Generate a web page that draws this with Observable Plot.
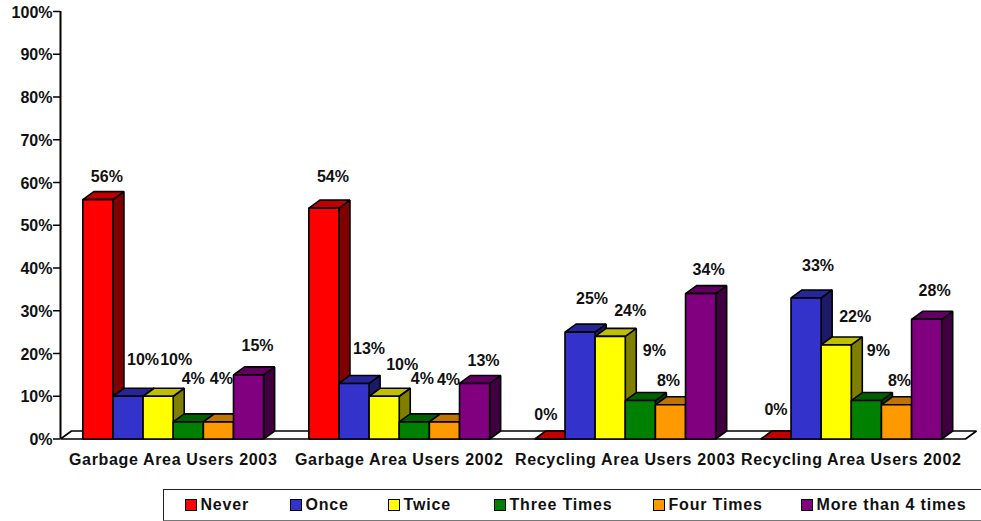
<!DOCTYPE html>
<html>
<head>
<meta charset="utf-8">
<script src="https://cdn.jsdelivr.net/npm/d3@7"></script>
<script src="https://cdn.jsdelivr.net/npm/@observablehq/plot@0.6"></script>
<style>
html,body{margin:0;padding:0;background:#fff;overflow:hidden;}
#wrap{position:relative;width:981px;height:521px;font-family:"Liberation Sans",Arial,sans-serif;font-weight:700;color:#111;}
#wrap svg{position:absolute;left:0;top:0;}
.cat text{letter-spacing:.66px;}
#legend{position:absolute;left:163px;top:489px;width:830px;height:29.5px;border:1.5px solid #222;border-right:none;border-bottom-color:#777;box-sizing:content-box;}
#legend .item{position:absolute;top:0;height:30px;line-height:30px;font-size:16px;letter-spacing:.82px;white-space:nowrap;}
#legend .sw{position:absolute;left:0;top:8.5px;width:10px;height:10px;border:1.5px solid #000;}
#legend .lb{position:absolute;left:16px;top:0;}
</style>
</head>
<body>
<div id="wrap"></div>
<script>
const categories = ["Garbage Area Users 2003","Garbage Area Users 2002","Recycling Area Users 2003","Recycling Area Users 2002"];
const series = ["Never","Once","Twice","Three Times","Four Times","More than 4 times"];
const never     = [56,54,0,0];
const once      = [10,13,25,33];
const twice     = [10,10,24,22];
const threeTimes= [4,4,9,9];
const fourTimes = [4,4,8,8];
const moreThan4 = [15,13,34,28];
const values = [never,once,twice,threeTimes,fourTimes,moreThan4];
const yTicks = [0,10,20,30,40,50,60,70,80,90,100];

const frontColors = ["#ff0000","#3333cc","#ffff00","#008000","#ff9900","#800080"];
const topColors   = ["#c00000","#262699","#bfbf00","#006000","#bf7300","#600060"];
const sideColors  = ["#800000","#1a1a66","#808000","#004000","#804d00","#400040"];

// hand-placed label offsets of the source chart [dx, dy] per series then category
const labelNudge = [
  [[9,-23],[9,-31],[-4,-24],[0,-29]],
  [[15,-36],[15,-35],[12,-33],[12,-32]],
  [[18,-36],[18,-31],[20,-26],[19,-28]],
  [[5,-43],[8,-43],[14,-50],[12,-50]],
  [[3,-43],[4,-42],[-2,-24],[3,-24]],
  [[9,-29],[9,-23],[8,-24],[8,-28]]
];

const slot = 1/7.5;      // bar width, in group units
const depthX = 0.0487;   // 3D depth, in group units
const depthY = 1.87;     // 3D depth, in percent
const xMin = -0.0987, xMax = 3.954;

const faces = [];
function face(id, fill, pts){ for(const [x,y] of pts) faces.push({id,fill,x,y}); }
face("floor","#ffffff",[[xMin,0],[xMin+depthX,depthY],[xMax,depthY],[xMax-depthX,0]]);
categories.forEach((c,g)=>{
  series.forEach((s,j)=>{
    const v = values[j][g], a = g + j*slot, b = a + slot, k = g+"-"+j;
    face(k+"side",sideColors[j],[[b,0],[b+depthX,depthY],[b+depthX,v+depthY],[b,v]]);
    face(k+"top",topColors[j],[[a,v],[a+depthX,v+depthY],[b+depthX,v+depthY],[b,v]]);
    face(k+"front",frontColors[j],[[a,0],[a,v],[b,v],[b,0]]);
  });
});

const labels = [];
categories.forEach((c,g)=>series.forEach((s,j)=>{
  labels.push({x:g+(j+.5)*slot,y:values[j][g],t:values[j][g]+"%",n:labelNudge[j][g]});
}));

const plot = Plot.plot({
  width:981, height:521,
  marginLeft:60, marginRight:5, marginTop:11, marginBottom:82.5,
  x:{domain:[xMin,xMax],axis:null},
  y:{domain:[0,100],axis:null},
  style:{fontFamily:'"Liberation Sans",Arial,sans-serif',fontWeight:700,fontSize:"16px",color:"#111",background:"transparent"},
  marks:[
    Plot.ruleX([xMin],{y1:0,y2:100,stroke:"#000",strokeWidth:2}),
    Plot.axisY({ticks:yTicks,text:null,tickSize:7,label:null,stroke:"#000",strokeWidth:1.5,strokeOpacity:1}),
    Plot.axisY({ticks:yTicks,tickFormat:d=>d+"%",tickSize:0,tickPadding:8,dy:1,label:null,textStroke:"none"}),
    Plot.line(faces,{x:"x",y:"y",z:"id",fill:"fill",stroke:"#000",strokeWidth:1.6,curve:"linear-closed",strokeLinejoin:"miter"}),
    ...labels.map(d=>Plot.text([d],{x:"x",y:"y",text:"t",dx:d.n[0],dy:d.n[1],fill:"#111"})),
    Plot.text(categories,{x:(c,i)=>i+3*slot,y:()=>0,text:c=>c,dy:21,fill:"#111",className:"cat"})
  ]
});
const wrap = document.getElementById("wrap");
wrap.appendChild(plot);

const legendLefts = [20.5,125.5,223.5,329.5,488.5,636.5];
const legend = document.createElement("div");
legend.id = "legend";
series.forEach((s,j)=>{
  const it = document.createElement("div");
  it.className = "item";
  it.style.left = legendLefts[j]+"px";
  const sw = document.createElement("span");
  sw.className = "sw"; sw.style.background = frontColors[j];
  const lb = document.createElement("span");
  lb.className = "lb"; lb.textContent = s;
  it.append(sw,lb);
  legend.appendChild(it);
});
wrap.appendChild(legend);
</script>
</body>
</html>
